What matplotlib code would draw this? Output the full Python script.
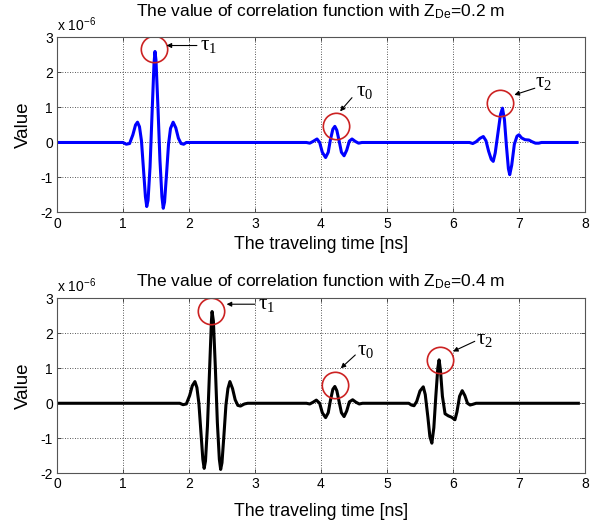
import matplotlib
matplotlib.use("Agg")
import matplotlib.pyplot as plt

plt.rcParams["font.family"] = ["Liberation Sans", "DejaVu Sans"]
plt.rcParams["mathtext.fontset"] = "custom"
plt.rcParams["mathtext.rm"] = "Liberation Serif"
plt.rcParams["mathtext.sf"] = "Liberation Sans"
plt.rcParams["axes.unicode_minus"] = False

# ---- data (time in ns, value in units of 1e-6) ----
t_top = [0.0, 1.00, 1.05, 1.10, 1.15, 1.19, 1.22, 1.25, 1.28, 1.31, 1.34, 1.36, 1.38,
         1.41, 1.44, 1.47, 1.485, 1.50, 1.53, 1.56, 1.59, 1.61, 1.63, 1.66, 1.69,
         1.72, 1.76, 1.80, 1.84, 1.88, 1.92, 1.96,
         3.78, 3.83, 3.88, 3.94, 3.98, 4.02, 4.07, 4.11, 4.14, 4.18, 4.21, 4.24,
         4.28, 4.31, 4.35, 4.39, 4.43, 4.47, 4.52, 4.57, 4.62,
         6.25, 6.30, 6.35, 6.41, 6.46, 6.50, 6.54, 6.58, 6.61, 6.64, 6.68, 6.72,
         6.75, 6.78, 6.81, 6.84, 6.86, 6.89, 6.93, 6.97, 7.00, 7.04, 7.09, 7.15,
         7.20, 7.25, 7.30, 7.34, 7.88]
v_top = [0.0, 0.0, -0.05, -0.03, 0.22, 0.50, 0.58, 0.45, 0.05, -0.75, -1.55, -1.83, -1.65,
         -0.70, 0.80, 2.25, 2.60, 2.35, 1.00, -0.50, -1.55, -1.88, -1.70, -0.90, -0.05,
         0.40, 0.58, 0.42, 0.12, -0.03, -0.05, 0.0,
         0.0, -0.02, 0.03, 0.10, 0.0, -0.28, -0.43, -0.28, 0.05, 0.38, 0.46, 0.35,
         0.0, -0.28, -0.38, -0.22, 0.04, 0.10, 0.03, -0.02, 0.0,
         0.0, -0.03, 0.02, 0.12, 0.17, 0.05, -0.25, -0.48, -0.54, -0.30, 0.25, 0.80,
         0.98, 0.65, -0.10, -0.75, -0.92, -0.65, -0.05, 0.18, 0.22, 0.13, 0.08, 0.07,
         0.02, -0.02, -0.02, 0.0, 0.0]

t_bot = [0.0, 1.86, 1.91, 1.96, 2.01, 2.05, 2.09, 2.12, 2.15, 2.18, 2.21, 2.23, 2.25,
         2.28, 2.31, 2.34, 2.35, 2.37, 2.40, 2.43, 2.46, 2.48, 2.50, 2.53, 2.56,
         2.59, 2.62, 2.66, 2.70, 2.74, 2.78, 2.84, 2.89,
         3.78, 3.83, 3.88, 3.93, 3.98, 4.02, 4.07, 4.11, 4.14, 4.18, 4.21, 4.24,
         4.28, 4.31, 4.35, 4.39, 4.43, 4.48, 4.53, 4.58, 4.63,
         5.33, 5.37, 5.41, 5.45, 5.50, 5.55, 5.58, 5.62, 5.65, 5.68, 5.71, 5.74,
         5.77, 5.79, 5.81, 5.84, 5.88, 5.93, 5.98, 6.03, 6.06, 6.10, 6.14, 6.18,
         6.22, 6.26, 6.30, 6.35, 7.90]
v_bot = [0.0, 0.0, -0.04, -0.02, 0.22, 0.50, 0.62, 0.45, 0.0, -0.80, -1.60, -1.86, -1.65,
         -0.65, 0.85, 2.35, 2.62, 2.35, 1.00, -0.55, -1.60, -1.89, -1.70, -0.90, -0.05,
         0.42, 0.62, 0.42, 0.10, -0.06, -0.08, -0.02, 0.0,
         0.0, -0.02, 0.03, 0.09, 0.0, -0.27, -0.41, -0.27, 0.05, 0.40, 0.48, 0.36,
         0.0, -0.27, -0.38, -0.22, 0.04, 0.10, 0.03, -0.02, 0.0,
         0.0, -0.05, -0.07, 0.05, 0.35, 0.47, 0.25, -0.40, -0.95, -1.14, -0.70, 0.20,
         1.00, 1.24, 0.95, 0.20, -0.30, -0.36, -0.40, -0.47, -0.25, 0.20, 0.36, 0.22,
         0.0, -0.05, -0.03, 0.0, 0.0]

# circle centres (ns, value) and labels
circ_top = [(1.47, 2.67), (4.23, 0.46), (6.72, 1.12)]
circ_bot = [(2.34, 2.65), (4.22, 0.52), (5.80, 1.24)]
tau_names = ["1", "0", "2"]
# arrow (head, tail) and label position
arrows_top = [((1.66, 2.77), (2.12, 2.77), (2.16, 2.77)),
              ((4.29, 0.89), (4.47, 1.28), (4.53, 1.45)),
              ((6.93, 1.36), (7.24, 1.55), (7.25, 1.72))]
arrows_bot = [((2.57, 2.83), (3.00, 2.83), (3.04, 2.83)),
              ((4.30, 1.00), (4.52, 1.38), (4.54, 1.50)),
              ((6.00, 1.48), (6.33, 1.77), (6.35, 1.82))]

# axes rect, title centre height (figure fraction), xlabel pad
panels = [
    (t_top, v_top, "#0000ff", "0.2", circ_top, arrows_top, [0.0945, 0.5945, 0.8756, 0.334], 0.977, 4),
    (t_bot, v_bot, "#000000", "0.4", circ_bot, arrows_bot, [0.0945, 0.0968, 0.8756, 0.334], 0.463, 8.5),
]

fig = plt.figure(figsize=(6.03, 5.24), dpi=100)

for t, v, color, zde, circles, arrows, rect, title_y, xpad in panels:
    ax = fig.add_axes(rect)
    ax.plot(t, v, color=color, lw=2.2, solid_joinstyle="round")
    ax.set_xlim(0, 8)
    ax.set_ylim(-2, 3)
    ax.set_xticks(range(0, 9))
    ax.set_yticks(range(-2, 4))
    ax.tick_params(direction="in", top=True, right=True, labelsize=10,
                   length=3, width=0.6, color="#333333", pad=3)
    ax.grid(True, linestyle=(0, (1, 2)), color="#222222", lw=0.6)
    for sp in ax.spines.values():
        sp.set_color("#555555")
        sp.set_linewidth(0.8)

    fig.text(rect[0] + rect[2] / 2, title_y,
             r"The value of correlation function with $\mathsf{Z_{De}}$=" + zde + " m",
             fontsize=12.5, ha="center", va="center")
    ax.set_xlabel("The traveling time [ns]", fontsize=12.8, labelpad=xpad)
    ax.set_ylabel("Value", fontsize=13.5, labelpad=6)
    ax.text(0.0, 1.02, r"x 10$^{\mathsf{-6}}$", transform=ax.transAxes,
            fontsize=10, ha="left", va="bottom")

    for (cx, cy), name, (head, tail, lab) in zip(circles, tau_names, arrows):
        ax.plot(cx, cy, "o", ms=19, mfc="none", mec="#cc2222", mew=1.2)
        ax.annotate("", xy=head, xytext=tail,
                    arrowprops=dict(arrowstyle="-|>", color="k", lw=0.8,
                                    mutation_scale=7, shrinkA=0, shrinkB=0))
        ax.text(lab[0], lab[1], r"$\mathrm{τ_" + name + "}$", fontsize=15,
                ha="left", va="center")

fig.savefig("out.png", dpi=100)
